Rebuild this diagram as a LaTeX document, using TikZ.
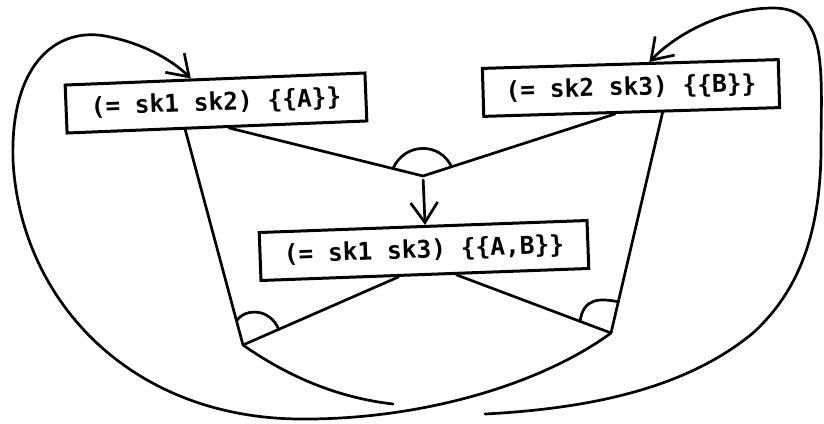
\documentclass[tikz,border=0pt]{standalone}
\usepackage{fontspec}
\setmonofont{DejaVu Sans Mono}
\usetikzlibrary{calc,arrows.meta}
\tikzset{
  box/.style={draw, line width=3pt, inner sep=0pt, minimum height=48pt,
    font=\ttfamily\bfseries\fontsize{24.5}{28}\selectfont},
  ln/.style={line width=2.7pt, line cap=round, line join=round},
  arr/.style={ln, -{Straight Barb[length=20pt,width=27pt]}},
}
\begin{document}
\begin{tikzpicture}[x=1pt,y=-1pt]
\useasboundingbox (0,0) rectangle (824,423);
\node[box, minimum width=300pt, rotate=2.3] (A) at (216,103) {(= sk1 sk2) \{\{A\}\}};
\node[box, minimum width=296pt, rotate=1.7] (B) at (631,88) {(= sk2 sk3) \{\{B\}\}};
\node[box, minimum width=328pt, rotate=2.1] (C) at (424,250.5) {(= sk1 sk3) \{\{A,B\}\}};
\coordinate (Ab) at ($(A.south west)!0.395!(A.south east)$);
\coordinate (Aa) at ($(A.south west)!0.54!(A.south east)$);
\coordinate (Ba) at ($(B.south west)!0.444!(B.south east)$);
\coordinate (Bb) at ($(B.south west)!0.603!(B.south east)$);
\coordinate (Ct) at ($(C.north west)!0.506!(C.north east)$);
\coordinate (Ca) at ($(C.south west)!0.42!(C.south east)$);
\coordinate (Cb) at ($(C.south west)!0.595!(C.south east)$);
\coordinate (At) at ($(A.north west)!0.42!(A.north east)$);
\coordinate (Bt) at ($(B.north west)!0.564!(B.north east)$);
\coordinate (v) at (423,176);
\coordinate (lv) at (243,345);
\coordinate (rv) at (611,333);
\coordinate (g1) at (393,404);
\coordinate (g2) at (485,414);
% straight connectors
\draw[ln] (Aa) -- (v) -- (Ba);
\draw[arr, shorten <=4pt] (v) -- (Ct);
\draw[ln] (Ab) -- (lv) -- (Ca);
\draw[ln] (Bb) -- (rv) -- (Cb);
% angle bumps
\draw[ln] ($(v)!31pt!(Aa)$) .. controls (405,142) and (440,142) .. ($(v)!30pt!(Ba)$);
\draw[ln] ($(lv)!25pt!(Ab)$) .. controls (245,308) and (270,308) .. ($(lv)!39pt!(Ca)$);
\draw[ln] ($(rv)!33pt!(Cb)$) .. controls (583,298) and (600,298) .. ($(rv)!32pt!(Bb)$);
% loops
\draw[ln] (lv) .. controls (290,378) and (340,398) .. (g1);
\draw[arr] (g2) .. controls (600,408) and (690,385) .. (753,333)
  .. controls (800,290) and (822,230) .. (821,140)
  .. controls (822,60) and (825,8) .. (773,8)
  .. controls (730,8) and (680,30) .. (Bt);
\draw[arr] (rv) .. controls (540,385) and (420,420) .. (300,419)
  .. controls (130,418) and (20,300) .. (13,160)
  .. controls (10,60) and (60,25) .. (110,37)
  .. controls (140,43) and (170,58) .. (At);
\end{tikzpicture}
\end{document}
